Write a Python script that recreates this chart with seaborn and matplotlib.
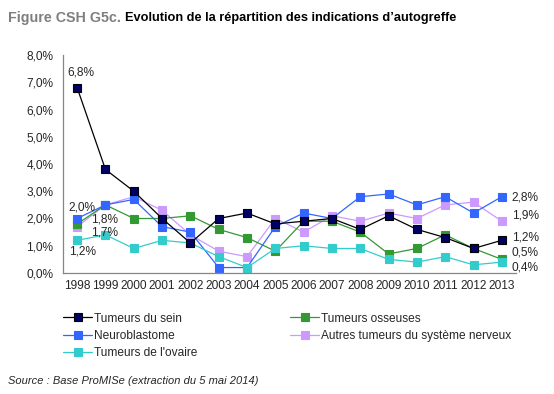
import numpy as np
import pandas as pd
import seaborn as sns
import matplotlib.pyplot as plt
from matplotlib.ticker import FuncFormatter, FixedLocator, NullFormatter

# data (in %)
years = [str(y) for y in range(1998, 2014)]
sein = [6.8, 3.8, 3.0, 2.0, 1.1, 2.0, 2.2, 1.8, 1.9, 2.0, 1.6, 2.1, 1.6, 1.3, 0.9, 1.2]
osseuses = [1.8, 2.5, 2.0, 2.0, 2.1, 1.6, 1.3, 0.8, 1.9, 1.9, 1.5, 0.7, 0.9, 1.4, 0.9, 0.5]
neuro = [2.0, 2.5, 2.7, 1.7, 1.5, 0.2, 0.2, 1.7, 2.2, 2.0, 2.8, 2.9, 2.5, 2.8, 2.2, 2.8]
autres_sn = [1.7, 2.5, 2.8, 2.3, 1.4, 0.8, 0.6, 2.0, 1.5, 2.1, 1.9, 2.2, 2.0, 2.5, 2.6, 1.9]
ovaire = [1.2, 1.4, 0.9, 1.2, 1.1, 0.6, 0.2, 0.9, 1.0, 0.9, 0.9, 0.5, 0.4, 0.6, 0.3, 0.4]

names = ["Tumeurs du sein", "Neuroblastome", "Tumeurs de l'ovaire",
         "Tumeurs osseuses", "Autres tumeurs du système nerveux"]
series = [sein, neuro, ovaire, osseuses, autres_sn]
# (line colour, marker face)
styles = [("#000000", "#000066"), ("#3366FF", "#3366FF"), ("#33CCCC", "#33CCCC"),
          ("#339933", "#339933"), ("#CC99FF", "#CC99FF")]

sns.set_style("white")
plt.rcParams['font.family'] = ['Liberation Sans', 'DejaVu Sans']

fig = plt.figure(figsize=(5.54, 3.94), dpi=100)
ax = fig.add_axes([63 / 554, 1 - 273 / 394, (516 - 63) / 554, (273 - 55) / 394])

x = np.arange(len(years))
# back to front
draw_order = [4, 3, 1, 2, 0]
for i in draw_order:
    lc, mf = styles[i]
    sns.lineplot(x=x, y=series[i], ax=ax, color=lc, lw=0.9, marker="s",
                 markersize=6.3, markerfacecolor=mf,
                 markeredgecolor="#000000" if i == 0 else mf,
                 markeredgewidth=0.8, label=names[i])

ax.set_xlim(-0.5, len(years) - 0.5)
ax.set_ylim(0, 8)
ax.set_yticks(np.arange(0, 8.1, 1))
ax.yaxis.set_major_formatter(FuncFormatter(lambda v, p: f"{v:.1f}%".replace(".", ",")))
ax.xaxis.set_major_locator(FixedLocator(np.arange(-0.5, len(years), 1)))
ax.xaxis.set_major_formatter(NullFormatter())
ax.xaxis.set_minor_locator(FixedLocator(x))
ax.set_xticklabels(years, minor=True)
ax.tick_params(axis="x", which="major", length=4, width=0.8, color="#868686", direction="out")
ax.tick_params(axis="x", which="minor", length=0, labelsize=8.6, pad=5)
ax.tick_params(axis="y", length=4, width=0.8, color="#868686", direction="out",
               labelsize=8.6, pad=3)
for s in ["top", "right"]:
    ax.spines[s].set_visible(False)
for s in ["left", "bottom"]:
    ax.spines[s].set_color("#868686")
    ax.spines[s].set_linewidth(0.9)

fs = 8.6
# data labels
ax.text(0 - 0.35, 6.8 + 0.55, "6,8%", fontsize=fs, ha="left", va="center")
ax.text(0 - 0.3, 2.0 + 0.4, "2,0%", fontsize=fs, ha="left", va="center")
ax.text(0 + 0.5, 1.95, "1,8%", fontsize=fs, ha="left", va="center")
ax.text(0 + 0.5, 1.5, "1,7%", fontsize=fs, ha="left", va="center")
ax.text(0 - 0.3, 0.79, "1,2%", fontsize=fs, ha="left", va="center")
right = [(2.8, 2.78), (1.9, 2.1), (1.2, 1.3), (0.5, 0.75), (0.4, 0.2)]
for v, ypos in right:
    ax.text(15.35, ypos, f"{v:.1f}%".replace(".", ","), fontsize=fs, ha="left", va="center")

# legend in original order
h, l = ax.get_legend_handles_labels()
lookup = dict(zip(l, h))
ax.legend([lookup[n] for n in names], names, ncol=2, loc="upper left",
          bbox_to_anchor=(-0.01, -0.16), frameon=False, fontsize=fs,
          handlelength=2.4, handletextpad=0.2, columnspacing=7.75,
          labelspacing=0.45, borderaxespad=0)

fig.text(8 / 554, 1 - 18 / 394, "Figure CSH G5c.", fontsize=10.3, fontweight="bold",
         color="#7F7F7F", va="center", ha="left")
fig.text(125 / 554, 1 - 18 / 394, "Evolution de la répartition des indications d\u2019autogreffe",
         fontsize=9.2, fontweight="bold", color="#000000", va="center", ha="left")
fig.text(8 / 554, 1 - 381 / 394, "Source : Base ProMISe (extraction du 5 mai 2014)",
         fontsize=8, style="italic", va="center", ha="left")

fig.savefig("out.png", dpi=100)
